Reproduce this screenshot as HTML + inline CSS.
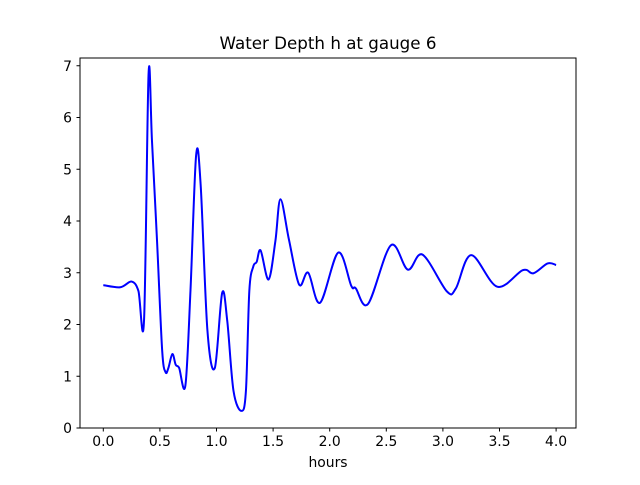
<!DOCTYPE html>
<html><head><meta charset="utf-8"><style>
body{margin:0;background:#fff;}
svg text{font-family:"DejaVu Sans","Liberation Sans",sans-serif;fill:#000;}
</style></head><body>
<svg id="chart" width="640" height="480" viewBox="0 0 640 480">
<rect x="0" y="0" width="640" height="480" fill="#fff"/>
<text x="328" y="49" font-size="16.7" text-anchor="middle">Water Depth h at gauge 6</text>
<g id="xt"></g>
<g id="yt"></g>
<path id="line" fill="none" stroke="#0000ff" stroke-width="2"/>
<rect x="80" y="58" width="496" height="370" fill="none" stroke="#000" stroke-width="1"/>
<text x="328" y="467" font-size="13.9" text-anchor="middle">hours</text>
</svg>
<script>
const hours=[0,0.15,0.25,0.31,0.36,0.40,0.43,0.475,0.52,0.55,0.575,0.61,0.64,0.67,0.725,0.77,0.82,0.86,0.92,0.985,1.05,1.095,1.15,1.22,1.26,1.29,1.325,1.355,1.39,1.46,1.52,1.565,1.64,1.73,1.81,1.915,2.075,2.19,2.23,2.34,2.54,2.69,2.82,3.035,3.115,3.25,3.48,3.705,3.80,3.925,4.0];
const depth=[2.76,2.72,2.83,2.65,2.09,6.85,5.55,3.6,1.5,1.08,1.16,1.43,1.22,1.16,0.82,2.65,5.27,4.7,1.88,1.16,2.61,2.07,0.72,0.33,0.72,2.65,3.12,3.21,3.43,2.87,3.61,4.42,3.64,2.77,3.0,2.42,3.39,2.75,2.70,2.40,3.53,3.06,3.35,2.64,2.70,3.34,2.73,3.05,2.99,3.18,3.15];
const xTicks=["0.0","0.5","1.0","1.5","2.0","2.5","3.0","3.5","4.0"];
const yTicks=["0","1","2","3","4","5","6","7"];
const NS="http://www.w3.org/2000/svg";
function X(v){return 103.3+v*113.2;}
function Y(v){return 428-v*51.75;}
const xt=document.getElementById('xt'),yt=document.getElementById('yt');
xTicks.forEach(t=>{const v=parseFloat(t);
 const l=document.createElementNS(NS,'line');
 
 
 l.setAttribute('x1',X(v));l.setAttribute('x2',X(v));l.setAttribute('y1',428);l.setAttribute('y2',431.5);l.setAttribute('stroke','#000');xt.appendChild(l);
 const tx=document.createElementNS(NS,'text');
 
 
 tx.setAttribute('x',X(v));tx.setAttribute('y',446);tx.setAttribute('font-size','13.9');tx.setAttribute('text-anchor','middle');tx.textContent=t;xt.appendChild(tx);});
yTicks.forEach(t=>{const v=parseFloat(t);
 const l=document.createElementNS(NS,'line');
 
 
 l.setAttribute('x1',76.5);l.setAttribute('x2',80);l.setAttribute('y1',Y(v));l.setAttribute('y2',Y(v));l.setAttribute('stroke','#000');yt.appendChild(l);
 const tx=document.createElementNS(NS,'text');
 
 
 tx.setAttribute('x',72);tx.setAttribute('y',Y(v)+5);tx.setAttribute('font-size','13.9');tx.setAttribute('text-anchor','end');tx.textContent=t;yt.appendChild(tx);});
const P=hours.map((h,i)=>[X(h),Y(depth[i])]);
let d='M'+P[0][0]+','+P[0][1];
for(let i=0;i<P.length-1;i++){const p0=P[Math.max(0,i-1)],p1=P[i],p2=P[i+1],p3=P[Math.min(P.length-1,i+2)];
 const c1=[p1[0]+(p2[0]-p0[0])/6,p1[1]+(p2[1]-p0[1])/6],c2=[p2[0]-(p3[0]-p1[0])/6,p2[1]-(p3[1]-p1[1])/6];
 d+=' C'+c1[0]+','+c1[1]+' '+c2[0]+','+c2[1]+' '+p2[0]+','+p2[1];}
document.getElementById('line').setAttribute('d',d);
</script>
</body></html>
